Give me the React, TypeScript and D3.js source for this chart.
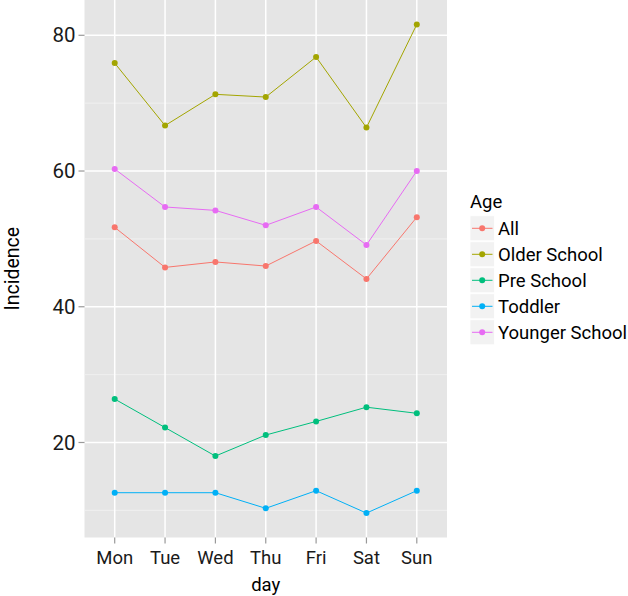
import React from "react";
import * as d3 from "d3";

const days = ["Mon", "Tue", "Wed", "Thu", "Fri", "Sat", "Sun"];
const groups = ["All", "Older School", "Pre School", "Toddler", "Younger School"];
const colors = ["#F8766D", "#A3A500", "#00BF7D", "#00B0F6", "#E76BF3"];
const allVals = [51.7, 45.8, 46.6, 46.0, 49.7, 44.1, 53.2];
const olderVals = [75.9, 66.7, 71.3, 70.9, 76.8, 66.4, 81.6];
const preVals = [26.4, 22.2, 18.0, 21.1, 23.1, 25.2, 24.3];
const toddlerVals = [12.6, 12.6, 12.6, 10.3, 12.9, 9.6, 12.9];
const youngerVals = [60.3, 54.7, 54.2, 52.0, 54.7, 49.1, 60.0];
const seriesVals = [allVals, olderVals, preVals, toddlerVals, youngerVals];
const yMajor = [20, 40, 60, 80];
const yMinor = [10, 30, 50, 70];

const W = 628, H = 596;
const pl = 84.5, pr = 447, pt = 0, pb = 537.5;
const font = "Roboto, 'Liberation Sans', Arial, sans-serif";
const fs = 18.5;

export default function App() {
  const x = d3.scalePoint<string>().domain(days).range([pl, pr]).padding(0.6);
  const allNums = seriesVals.flat();
  const mn = d3.min(allNums)!, mx = d3.max(allNums)!;
  const ex = (mx - mn) * 0.05;
  const y = d3.scaleLinear().domain([mn - ex, mx + ex]).range([pb, pt]);
  const line = d3.line<number>().x((_, i) => x(days[i])!).y((v) => y(v));

  return (
    <svg width={W} height={H} style={{ position: "absolute", left: 0, top: 0 }} fontFamily={font}>
      <rect x={pl} y={pt} width={pr - pl} height={pb - pt} fill="#E5E5E5" />
      {yMinor.map((v) => (
        <line key={"mn" + v} x1={pl} x2={pr} y1={y(v)} y2={y(v)} stroke="#F2F2F2" strokeWidth={0.8} />
      ))}
      {yMajor.map((v) => (
        <line key={"mj" + v} x1={pl} x2={pr} y1={y(v)} y2={y(v)} stroke="#FFFFFF" strokeWidth={1.5} />
      ))}
      {days.map((d) => (
        <line key={"vg" + d} x1={x(d)} x2={x(d)} y1={pt} y2={pb} stroke="#FFFFFF" strokeWidth={1.5} />
      ))}
      {seriesVals.map((vals, i) => (
        <g key={groups[i]}>
          <path d={line(vals)!} fill="none" stroke={colors[i]} strokeWidth={1} />
          {vals.map((v, j) => (
            <circle key={j} cx={x(days[j])} cy={y(v)} r={3} fill={colors[i]} />
          ))}
        </g>
      ))}
      {yMajor.map((v) => (
        <g key={"yt" + v}>
          <line x1={pl - 6} x2={pl} y1={y(v)} y2={y(v)} stroke="#999" strokeWidth={1.2} />
          <text x={pl - 9} y={y(v)} dy="0.35em" textAnchor="end" fontSize={20.5} fill="#1a1a1a">{v}</text>
        </g>
      ))}
      {days.map((d) => (
        <g key={"xt" + d}>
          <line x1={x(d)} x2={x(d)} y1={pb} y2={pb + 6} stroke="#999" strokeWidth={1.2} />
          <text x={x(d)} y={pb + 20} dy="0.35em" textAnchor="middle" fontSize={fs} fill="#1a1a1a">{d}</text>
        </g>
      ))}
      <text x={(pl + pr) / 2} y={585} dy="0.35em" textAnchor="middle" fontSize={fs} fill="#000">day</text>
      <text transform={`translate(12,${(pt + pb) / 2}) rotate(-90)`} dy="0.35em" textAnchor="middle" fontSize={19.5} fill="#000">Incidence</text>
      <text x={470} y={202} dy="0.35em" fontSize={fs} fill="#000">Age</text>
      {groups.map((g, i) => {
        const cy = 228.3 + i * 26;
        return (
          <g key={"lg" + g}>
            <rect x={470} y={cy - 12.5} width={24.5} height={25} fill="#F2F2F2" stroke="#FFFFFF" strokeWidth={0.8} />
            <line x1={472} x2={492.5} y1={cy} y2={cy} stroke={colors[i]} strokeWidth={1} />
            <circle cx={482.2} cy={cy} r={3} fill={colors[i]} />
            <text x={498} y={cy} dy="0.35em" fontSize={fs} fill="#000">{g}</text>
          </g>
        );
      })}
    </svg>
  );
}
